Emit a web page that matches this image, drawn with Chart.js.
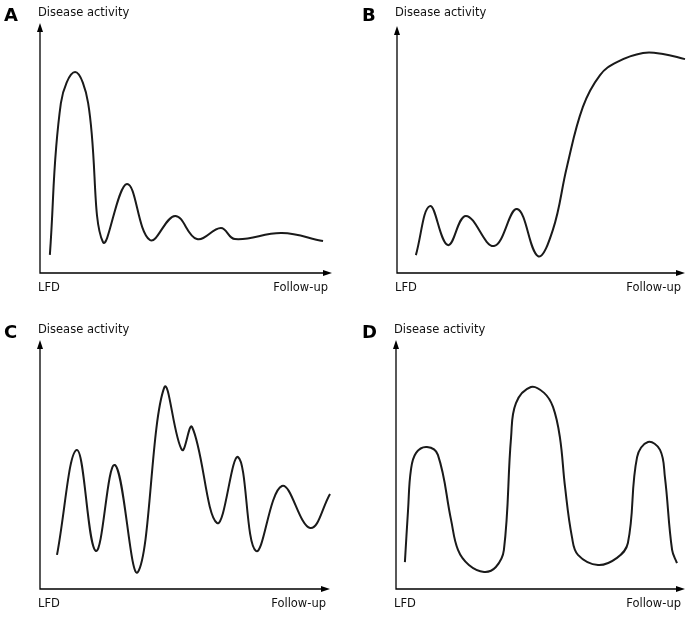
<!DOCTYPE html>
<html>
<head>
<meta charset="utf-8">
<script src="https://cdn.jsdelivr.net/npm/chart.js@4.4.1/dist/chart.umd.min.js"></script>
<style>
  body { margin: 0; background: #fff; }
  #wrap { position: relative; width: 695px; height: 618px; }
  canvas { position: absolute; }
</style>
</head>
<body>
<div id="wrap">
  <canvas id="panelA" width="347" height="309" style="left:0;top:0"></canvas>
  <canvas id="panelB" width="348" height="309" style="left:347px;top:0"></canvas>
  <canvas id="panelC" width="347" height="309" style="left:0;top:309px"></canvas>
  <canvas id="panelD" width="348" height="309" style="left:347px;top:309px"></canvas>
</div>
<script>
// time since LFD (0-100) and disease activity (0-100)
var aX = [3.4, 7.2, 12.1, 16.6, 21.7, 30.0, 37.9, 46.6, 54.1, 62.4, 67.2, 83.4, 97.6];
var aY = [7.3, 68.5, 81.0, 68.5, 12.5, 35.9, 13.3, 23.0, 13.7, 18.1, 13.7, 16.1, 12.9];

var bX = [6.6, 11.5, 17.8, 24.1, 33.9, 42.0, 49.3, 54.5, 59.4, 65.0, 71.0, 76.9, 86.0, 93.0, 100.7];
var bY = [7.3, 27.3, 11.4, 23.3, 11.0, 26.1, 6.9, 17.6, 43.3, 67.8, 80.8, 86.1, 89.8, 89.4, 87.3];

var cX = [5.9, 12.8, 19.4, 26.0, 34.0, 43.1, 49.3, 52.8, 61.5, 68.8, 75.0, 84.0, 93.8, 100.7];
var cY = [13.8, 56.3, 15.4, 50.2, 6.9, 81.4, 56.3, 65.6, 26.7, 53.4, 15.4, 41.7, 24.7, 38.5];

var dX = [3.1, 4.2, 5.2, 7.0, 10.8, 14.6, 19.2, 21.6, 25.4, 30.7, 34.8, 37.6, 40.1, 41.8, 47.0, 51.6, 54.7, 57.1, 58.9, 61.3, 63.4, 70.4, 77.0, 80.8, 84.0, 87.8, 92.0, 93.7, 96.2, 97.9];
var dY = [10.9, 32.0, 48.2, 55.1, 57.5, 54.3, 27.9, 15.8, 9.7, 6.9, 8.9, 15.8, 61.5, 75.3, 81.8, 79.4, 73.7, 61.5, 41.3, 21.1, 13.8, 9.7, 12.6, 18.6, 53.4, 59.5, 56.3, 45.3, 15.8, 10.5];

var yTitle = 'Disease activity';
var xStart = 'LFD';
var xEnd = 'Follow-up';

// axes with arrow heads plus the panel texts
var sketchAxes = {
  id: 'sketchAxes',
  beforeDatasetsDraw: function (chart, args, opts) {
    var ctx = chart.ctx, a = chart.chartArea;
    ctx.save();
    ctx.strokeStyle = '#000';
    ctx.fillStyle = '#000';
    ctx.lineWidth = 1.3;
    ctx.beginPath();
    ctx.moveTo(a.left, a.top + 4);
    ctx.lineTo(a.left, a.bottom);
    ctx.lineTo(a.right - 4, a.bottom);
    ctx.stroke();
    ctx.beginPath();
    ctx.moveTo(a.left, a.top - 2);
    ctx.lineTo(a.left - 3, a.top + 7);
    ctx.lineTo(a.left + 3, a.top + 7);
    ctx.closePath();
    ctx.fill();
    ctx.beginPath();
    ctx.moveTo(a.right + 2, a.bottom);
    ctx.lineTo(a.right - 7, a.bottom - 3);
    ctx.lineTo(a.right - 7, a.bottom + 3);
    ctx.closePath();
    ctx.fill();

    ctx.textBaseline = 'middle';
    ctx.font = 'bold 18px "DejaVu Sans"';
    ctx.textAlign = 'left';
    ctx.fillText(opts.letter, opts.letterX, opts.titleY + 3);
    ctx.font = '11.5px "DejaVu Sans"';
    ctx.fillStyle = '#111';
    ctx.fillText(yTitle, a.left - 2, opts.titleY);
    ctx.fillText(xStart, a.left - 2, a.bottom + 15);
    ctx.textAlign = 'right';
    ctx.fillText(xEnd, a.right - 2, a.bottom + 15);
    ctx.restore();
  }
};

function makePanel(id, letter, xs, ys, pad, letterX, titleY) {
  var pts = xs.map(function (x, i) { return { x: x, y: ys[i] }; });
  return new Chart(document.getElementById(id), {
    type: 'line',
    data: {
      datasets: [{
        data: pts,
        borderColor: '#1a1a1a',
        borderWidth: 2,
        pointRadius: 0,
        tension: 0.4,
        fill: false,
        clip: false
      }]
    },
    options: {
      responsive: false,
      animation: false,
      devicePixelRatio: 1,
      layout: { padding: pad },
      scales: {
        x: { type: 'linear', min: 0, max: 100, display: false },
        y: { type: 'linear', min: 0, max: 100, display: false }
      },
      plugins: {
        legend: { display: false },
        tooltip: { enabled: false },
        sketchAxes: { letter: letter, letterX: letterX, titleY: titleY }
      }
    },
    plugins: [sketchAxes]
  });
}

makePanel('panelA', 'A', aX, aY, { left: 40, right: 17, top: 25, bottom: 36 }, 4, 13);
makePanel('panelB', 'B', bX, bY, { left: 50, right: 12, top: 28, bottom: 36 }, 15, 13);
makePanel('panelC', 'C', cX, cY, { left: 40, right: 19, top: 33, bottom: 29 }, 4, 21);
makePanel('panelD', 'D', dX, dY, { left: 49, right: 12, top: 33, bottom: 29 }, 15, 21);
</script>
</body>
</html>
